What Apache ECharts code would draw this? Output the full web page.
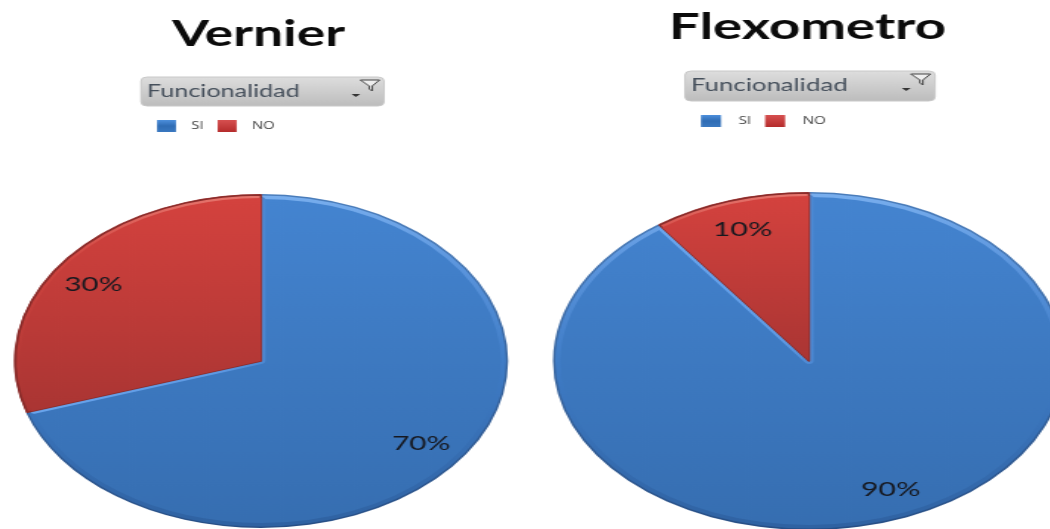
<!DOCTYPE html>
<html><head><meta charset="utf-8">
<script src="https://cdn.jsdelivr.net/npm/echarts@6/dist/echarts.min.js"></script>
<style>
html,body{margin:0;padding:0;background:#fff;overflow:hidden;width:1050px;height:529px}
.c{position:absolute;top:0;height:529px;transform-origin:0 0;filter:blur(0.45px)}
</style></head><body>
<div id="a" class="c"></div><div id="b" class="c"></div>
<script>
const categories=['SI','NO'];
const vernierValues=[70,30];
const flexometroValues=[90,10];
const filterLabel='Funcionalidad';
const G=(...stops)=>new echarts.graphic.LinearGradient(0,0,0,1,stops.map(([o,c])=>({offset:o,color:c})));
const H=(...stops)=>new echarts.graphic.LinearGradient(0,0,1,0,stops.map(([o,c])=>({offset:o,color:c})));
function build(id,o){
  const s=o.scale,el=document.getElementById(id);
  el.style.left=o.left+'px';el.style.width=(o.w/s)+'px';el.style.transform='scaleX('+s+')';
  const X=x=>(x-o.left)/s, cx=X(o.cx), R=o.R;
  const base={type:'pie',center:[cx,o.cy],startAngle:90,silent:true,animation:false,clockwise:true,labelLine:{show:false},label:{show:false}};
  const layer=(radius,styles,extra)=>Object.assign({},base,{radius,
    data:categories.map((n,i)=>({name:n,value:o.values[i],itemStyle:styles[i]||{color:'transparent'}}))},extra||{});
  const ch=echarts.init(el,null,{renderer:'canvas'});
  const by=o.btn.y,bh=o.btn.h,bx=X(o.btn.x),bw=o.btn.w/s;
  const blueMain=G([0,'#4484d0'],[1,'#366eb1']);
  const redMain=G([0,'#d4423e'],[1,'#aa3533']);
  ch.setOption({
    animation:false,
    title:{text:o.title,left:X(o.titleX),top:o.titleY,padding:0,textStyle:{fontFamily:'Lato',fontWeight:'bold',fontSize:36,color:'#0b0b0b'}},
    legend:{data:[{name:'SI',itemStyle:{color:G([0,'#4d8fdc'],[0.5,'#2f6cb4'],[1,'#3a78c0'])}},{name:'NO',itemStyle:{color:G([0,'#d65050'],[1,'#b52c2c'])}}],
      left:X(o.lg.x),top:o.lg.y,itemWidth:o.lg.sw/s,itemHeight:12,itemGap:o.lg.gap/s,icon:'rect',padding:0,
      textStyle:{fontFamily:'Open Sans',fontSize:10,color:'#444',padding:[0,0,0,o.lg.pad/s]},selectedMode:false},
    graphic:[
      {type:'rect',shape:{x:bx,y:by,width:bw,height:bh,r:4},style:{fill:G([0,'#dedede'],[1,'#bcbcbc']),stroke:'#c8c8c8',lineWidth:1}},
      {type:'text',x:bx+4,y:by+bh/2,style:{text:filterLabel,fontFamily:'Lato',fontSize:17,fill:'#46505c',verticalAlign:'middle'}},
      {type:'polygon',shape:{points:[[bx+bw-16,by+3],[bx+bw-3,by+3],[bx+bw-8,by+9],[bx+bw-8,by+14],[bx+bw-10,by+12],[bx+bw-10,by+9]]},style:{fill:'#eeeeee',stroke:'#444',lineWidth:1}},
      {type:'polygon',shape:{points:[[bx+bw-22,by+17],[bx+bw-16,by+17],[bx+bw-19,by+20]]},style:{fill:'#333'}}
    ],
    series:[
      // dark outer outline
      layer([0,R],[{color:G([0,'#4a7dbb'],[1,'#274f86'])},{color:G([0,'#a84040'],[1,'#8a2a28'])}]),
      // outer bevel, light on top fading downward
      layer([0,R-1.5],[{color:G([0,'#78aeee'],[0.22,'#5a94dc'],[0.5,'#3f7cc6'],[1,'#2f62a2'])},null]),
      // blue main face
      layer([0,R-5],[{color:blueMain},null]),
      // light band on blue along the edges of the red slice
      layer([0,R-6],[null,{color:'transparent',borderColor:H([0,'#6aa6ee'],[0.8,'#5e9ae4'],[1,'#4c88d2']),borderWidth:6}]),
      // red bevel and face
      layer([0,R-1],[null,{color:G([0,'#e6766e'],[0.3,'#d0443f'],[1,'#a83432']),borderColor:'#8a2c2a',borderWidth:1.5}]),
      layer([0,R-4],[null,{color:redMain}]),
      // percentage labels
      Object.assign({},base,{radius:[R-60,R],
        data:categories.map((n,i)=>({name:n,value:o.values[i],itemStyle:{color:'transparent'},label:{offset:o.off[i]}})),
        label:{show:true,position:'inside',formatter:'{d}%',fontFamily:'Lato',fontSize:20,color:'#16181f'}})
    ]
  });
}
build('a',{left:0,w:525,scale:1.48,cx:261,cy:361,R:167,values:vernierValues,title:'Vernier',titleX:172,titleY:16,off:[[-5,0],[0,6]],
  btn:{x:141,y:77,w:243,h:29},lg:{x:157,y:120,sw:19,gap:14,pad:8}});
build('b',{left:525,w:525,scale:1.515,cx:809,cy:361,R:169,values:flexometroValues,title:'Flexometro',titleX:669,titleY:9,off:[[10,-7],[0,4]],
  btn:{x:685,y:71,w:250,h:30},lg:{x:701,y:115,sw:20,gap:14,pad:10}});
</script></body></html>
